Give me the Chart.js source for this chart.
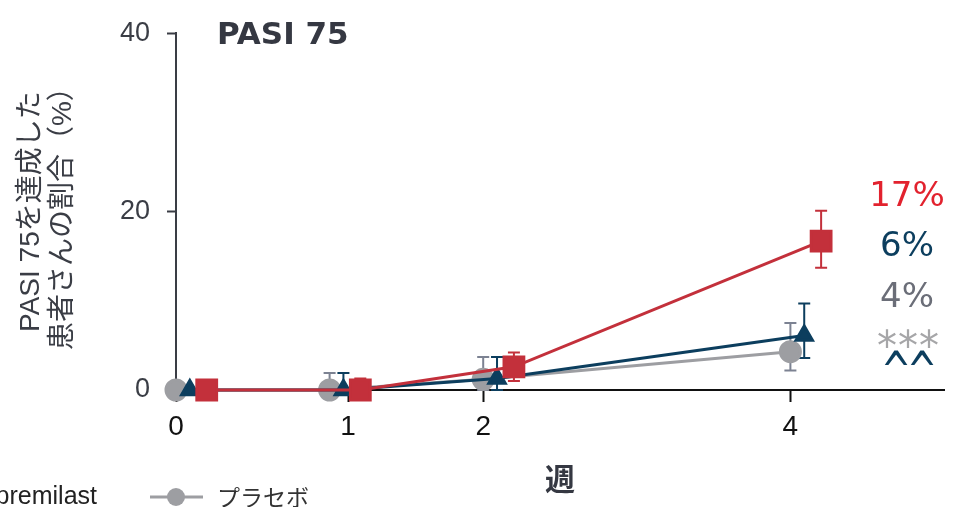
<!DOCTYPE html>
<html>
<head>
<meta charset="utf-8">
<script src="https://cdn.jsdelivr.net/npm/chart.js@4/dist/chart.umd.min.js"></script>
<style>
  html, body { margin: 0; padding: 0; background: #fff; }
  #wrap { width: 953px; height: 507px; }
</style>
</head>
<body>
<div id="wrap"><canvas id="pasiChart"></canvas></div>
<script>
// ===== DATA =====
const weeks = [0, 1, 2, 4];
const tickWeeks = [0, 1.12, 2, 4];      // axis positions of the week labels
const tickLabels = ["0", "1", "2", "4"];

// % of patients reaching PASI 75
const armRed = [0, 0, 2.6, 16.7];
const armRedHi = [null, 1.3, 4.2, 20.1];
const armRedLo = [null, 0, 1.0, 13.7];

const armBlue = [0, 0, 1.3, 6.1];
const armBlueHi = [null, 1.9, 3.7, 9.7];
const armBlueLo = [null, 0, 0, 3.6];

const placebo = [0, 0, 1.2, 4.3];
const placeboHi = [null, 1.9, 3.7, 7.5];
const placeboLo = [null, 0, 0, 2.2];

const endLabels = ["17%", "6%", "4%"];
const markRows = ["***", "^^"];
const legendLabels = ["Apremilast", "プラセボ"];

const RED = "#c3303b";
const BLUE = "#0c3e5e";
const GREY = "#9d9ea2";

// ===== HELPERS =====
function points(values, shift) {
  return weeks.map((w, i) => ({ x: w + shift, y: values[i] }));
}

// ===== ERROR BARS =====
const errorBars = {
  id: "errorBars",
  beforeDatasetsDraw(chart) {
    const { ctx, scales: { x, y } } = chart;
    chart.data.datasets.forEach(ds => {
      ctx.save();
      ctx.strokeStyle = ds.errColor;
      ctx.lineWidth = 2;
      ds.data.forEach((p, i) => {
        if (ds.errHi[i] == null) return;
        const px = x.getPixelForValue(p.x);
        const top = y.getPixelForValue(ds.errHi[i]);
        const mid = y.getPixelForValue(p.y);
        const bot = y.getPixelForValue(ds.errLo[i]);
        ctx.beginPath();
        ctx.moveTo(px, top); ctx.lineTo(px, bot);
        ctx.moveTo(px - 6, top); ctx.lineTo(px + 6, top);
        if (bot > mid + 1) { ctx.moveTo(px - 6, bot); ctx.lineTo(px + 6, bot); }
        ctx.stroke();
      });
      ctx.restore();
    });
  }
};

// ===== TEXT EXTRAS =====
const extras = {
  id: "extras",
  afterDraw(chart) {
    const ctx = chart.ctx;
    ctx.save();
    ctx.textBaseline = "middle";

    // panel title
    ctx.fillStyle = "#353842";
    ctx.font = "bold 31px 'DejaVu Sans'";
    ctx.textAlign = "left";
    ctx.fillText("PASI 75", 217, 36);

    // values at week 4
    ctx.textAlign = "center";
    ctx.font = "34px 'DejaVu Sans'";
    ctx.fillStyle = "#e2222e";
    ctx.fillText(endLabels[0], 907, 197);
    ctx.fillStyle = BLUE;
    ctx.fillText(endLabels[1], 907, 247);
    ctx.fillStyle = "#6b6e78";
    ctx.fillText(endLabels[2], 907, 298);

    // significance marks
    ctx.textBaseline = "alphabetic";
    ctx.font = "40px 'DejaVu Sans'";
    ctx.fillStyle = "#a6a6a8";
    [...markRows[0]].forEach((c, i) => ctx.fillText(c, 887 + i * 21, 360));
    ctx.font = "36px 'DejaVu Sans'";
    ctx.fillStyle = BLUE;
    ctx.save();
    ctx.translate(0, 389);
    ctx.scale(1, 1.5);
    [...markRows[1]].forEach((c, i) => ctx.fillText(c, 896 + i * 26, 0));
    ctx.restore();

    // legend (runs off the left edge)
    ctx.textBaseline = "middle";
    ctx.font = "25px 'Liberation Sans'";
    ctx.fillStyle = "#222";
    ctx.textAlign = "right";
    ctx.fillText(legendLabels[0], 97, 497);
    ctx.strokeStyle = GREY;
    ctx.lineWidth = 3;
    ctx.beginPath(); ctx.moveTo(150, 497); ctx.lineTo(203, 497); ctx.stroke();
    ctx.fillStyle = GREY;
    ctx.beginPath(); ctx.arc(176, 497, 9, 0, Math.PI * 2); ctx.fill();
    ctx.fillStyle = "#333";
    ctx.textAlign = "left";
    ctx.font = "23px 'Noto Sans CJK JP'";
    ctx.fillText(legendLabels[1], 217, 497);
    ctx.restore();
  }
};

// ===== CHART =====
const ctx = document.getElementById("pasiChart").getContext("2d");
new Chart(ctx, {
  type: "line",
  data: {
    datasets: [
      {
        label: "armRed",
        data: points(armRed, 0.2),
        errHi: armRedHi, errLo: armRedLo, errColor: RED,
        borderColor: RED, backgroundColor: RED,
        pointStyle: "rect", pointRadius: 14, borderWidth: 3,
        clip: false
      },
      {
        label: "armBlue",
        data: points(armBlue, 0.09),
        errHi: armBlueHi, errLo: armBlueLo, errColor: BLUE,
        borderColor: BLUE, backgroundColor: BLUE,
        pointStyle: "triangle", pointRadius: 9.5, borderWidth: 3,
        clip: false
      },
      {
        label: "placebo",
        data: points(placebo, 0),
        errHi: placeboHi, errLo: placeboLo, errColor: "#7c8292",
        borderColor: GREY, backgroundColor: GREY,
        pointStyle: "circle", pointRadius: 10, borderWidth: 3,
        clip: false
      }
    ]
  },
  options: {
    responsive: true,
    maintainAspectRatio: false,
    animation: false,
    layout: { autoPadding: false, padding: { top: 32, right: 9, bottom: 0, left: 0 } },
    elements: { point: { borderWidth: 0 }, line: { tension: 0 } },
    plugins: { legend: { display: false }, tooltip: { enabled: false } },
    scales: {
      x: {
        type: "linear",
        min: 0,
        max: 5,
        afterBuildTicks: axis => { axis.ticks = tickWeeks.map(v => ({ value: v })); },
        afterFit: axis => { axis.height = 117; },
        ticks: {
          callback: (v, i) => tickLabels[i],
          color: "#111",
          font: { family: "Liberation Sans", size: 28 },
          padding: 8,
          maxRotation: 0
        },
        grid: {
          drawOnChartArea: false, drawTicks: true,
          tickLength: 12, tickWidth: 2, tickColor: "#111"
        },
        border: { color: "#111", width: 2 },
        title: {
          display: true,
          text: "週",
          color: "#353842",
          font: { family: "Noto Sans CJK JP", size: 30, weight: "bold", lineHeight: 1.2 },
          padding: { top: 0, bottom: 10 }
        }
      },
      y: {
        min: 0,
        max: 40,
        afterFit: axis => { axis.width = 176; },
        ticks: {
          stepSize: 20,
          color: "#3a3d45",
          font: { family: "Liberation Sans", size: 27 },
          padding: 17
        },
        grid: {
          drawOnChartArea: false, drawTicks: true,
          tickLength: 9, tickWidth: 2, tickColor: "#3a3d45"
        },
        border: { color: "#3a3d45", width: 2 },
        title: {
          display: true,
          text: ["PASI 75を達成した", "患者さんの割合（%）"],
          color: "#3a3d45",
          font: { family: "'Liberation Sans', 'Noto Sans CJK JP'", size: 28, lineHeight: 1.15 },
          padding: { top: 15, bottom: 0 }
        }
      }
    }
  },
  plugins: [errorBars, extras]
});
</script>
</body>
</html>
